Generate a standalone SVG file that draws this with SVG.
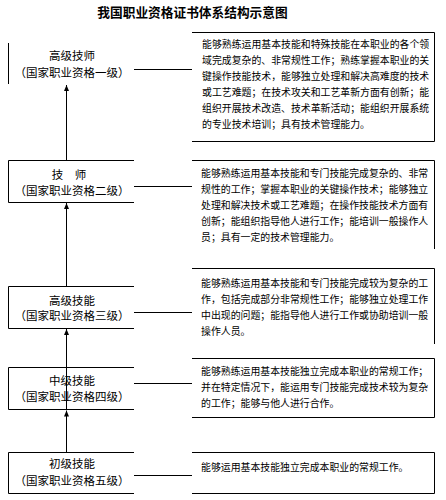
<svg xmlns="http://www.w3.org/2000/svg" width="446" height="500" viewBox="0 0 446 500">
<defs>
<style>
.t{font-family:"Noto Sans CJK SC","Noto Sans",sans-serif;fill:#000}
.title{font-size:12.7px;font-weight:bold}
.lbl{font-size:11.5px;text-anchor:middle}
.desc{font-size:9.9px}
.ln{stroke:#000;stroke-width:1;fill:none}
</style>
<marker id="arr" viewBox="0 0 6 6" refX="6" refY="3" markerWidth="6" markerHeight="6" markerUnits="userSpaceOnUse" orient="auto">
<path d="M0,0.5 L6,3 L0,5.5 z" fill="#000"/>
</marker>
</defs>
<rect width="446" height="500" fill="#fff"/>
<text class="t title" x="192.5" y="17" text-anchor="middle">我国职业资格证书体系结构示意图</text>

<g id="level1">
<path class="ln" d="M8.5,43 V84"/>
<text class="t lbl" x="72" y="59.5">高级技师</text>
<text class="t lbl" x="72" y="76.5">（国家职业资格一级）</text>
</g>
<g id="level2">
<path class="ln" d="M134,160.5 H8.5 V202.5 H134"/>
<text class="t lbl" x="69" y="178.5">技　师</text>
<text class="t lbl" x="72" y="194.5">（国家职业资格二级）</text>
</g>
<g id="level3">
<path class="ln" d="M134,286.5 H8.5 V328.5 H134"/>
<text class="t lbl" x="72" y="304.5">高级技能</text>
<text class="t lbl" x="72" y="320">（国家职业资格三级）</text>
</g>
<g id="level4">
<path class="ln" d="M134,367.5 H8.5 V409.5 H134"/>
<text class="t lbl" x="72" y="384.5">中级技能</text>
<text class="t lbl" x="72" y="400.5">（国家职业资格四级）</text>
</g>
<g id="level5">
<path class="ln" d="M134,452.5 H8.5 V493.5 H134"/>
<text class="t lbl" x="72" y="467.5">初级技能</text>
<text class="t lbl" x="72" y="484.5">（国家职业资格五级）</text>
</g>

<g id="desc1">
<path class="ln" d="M192,32.5 H434.5 V141.5 H192"/>
<text class="t desc" x="202" y="48">能够熟练运用基本技能和特殊技能在本职业的各个领</text>
<text class="t desc" x="202" y="64">域完成复杂的、非常规性工作；熟练掌握本职业的关</text>
<text class="t desc" x="202" y="80">键操作技能技术，能够独立处理和解决高难度的技术</text>
<text class="t desc" x="202" y="96">或工艺难题；在技术攻关和工艺革新方面有创新；能</text>
<text class="t desc" x="202" y="112">组织开展技术改造、技术革新活动；能组织开展系统</text>
<text class="t desc" x="202" y="128">的专业技术培训；具有技术管理能力。</text>
</g>
<g id="desc2">
<path class="ln" d="M192,160.5 H434.5 V249"/>
<text class="t desc" x="201" y="177">能够熟练运用基本技能和专门技能完成复杂的、非常</text>
<text class="t desc" x="201" y="193">规性的工作；掌握本职业的关键操作技术；能够独立</text>
<text class="t desc" x="201" y="209">处理和解决技术或工艺难题；在操作技能技术方面有</text>
<text class="t desc" x="201" y="225">创新；能组织指导他人进行工作；能培训一般操作人</text>
<text class="t desc" x="201" y="241">员；具有一定的技术管理能力。</text>
</g>
<g id="desc3">
<path class="ln" d="M192,268.5 H434.5 V344"/>
<text class="t desc" x="201" y="287">能够熟练运用基本技能和专门技能完成较为复杂的工</text>
<text class="t desc" x="201" y="303">作，包括完成部分非常规性工作；能够独立处理工作</text>
<text class="t desc" x="201" y="319">中出现的问题；能指导他人进行工作或协助培训一般</text>
<text class="t desc" x="201" y="335">操作人员。</text>
</g>
<g id="desc4">
<path class="ln" d="M192,358.5 H434.5 V417.5 H192"/>
<text class="t desc" x="201" y="375">能够熟练运用基本技能独立完成本职业的常规工作；</text>
<text class="t desc" x="201" y="391">并在特定情况下，能运用专门技能完成技术较为复杂</text>
<text class="t desc" x="201" y="407">的工作；能够与他人进行合作。</text>
</g>
<g id="desc5">
<path class="ln" d="M192,452.5 H434.5 V493.5 H192"/>
<text class="t desc" x="201" y="471">能够运用基本技能独立完成本职业的常规工作。</text>
</g>

<g id="connectors">
<path class="ln" d="M134,69.5 H192"/>
<path class="ln" d="M134,186.5 H192"/>
<path class="ln" d="M134,312.5 H192"/>
<path class="ln" d="M134,383.5 H192"/>
<path class="ln" d="M134,475.5 H192"/>
<line class="ln" x1="66.5" y1="160" x2="66.5" y2="85" marker-end="url(#arr)"/>
<line class="ln" x1="66.5" y1="286" x2="66.5" y2="203" marker-end="url(#arr)"/>
<line class="ln" x1="66.5" y1="452" x2="66.5" y2="410.5" marker-end="url(#arr)"/>
<line class="ln" x1="66.5" y1="410" x2="66.5" y2="329" marker-end="url(#arr)"/>
</g>
</svg>
